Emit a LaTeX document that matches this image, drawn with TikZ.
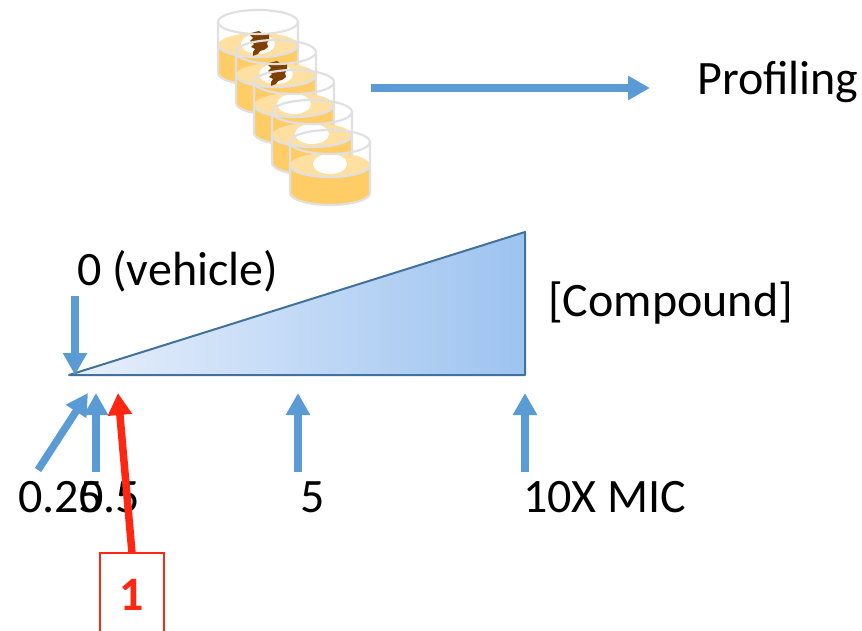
\documentclass[tikz,border=0pt]{standalone}
\usepackage{fontspec}
\setmainfont{Carlito}
\usetikzlibrary{arrows.meta}

\definecolor{arrowblue}{RGB}{91,155,213}
\definecolor{edgeblue}{RGB}{65,113,156}
\definecolor{wedgelight}{RGB}{232,240,252}
\definecolor{wedgedark}{RGB}{157,195,240}
\definecolor{markred}{RGB}{255,38,18}
\definecolor{liquid}{RGB}{255,204,102}
\definecolor{liquidtop}{RGB}{255,224,160}
\definecolor{glass}{RGB}{224,224,224}
\definecolor{colony}{RGB}{127,63,0}

% one petri dish: centre of rim (#1,#2), optional colony drawing #3
\newcommand\petridish[3]{%
  \begin{scope}[shift={(#1,#2)}]
    \fill[liquid] (-40,23) -- (-40,51)
      arc[start angle=180,end angle=0,x radius=40,y radius=12] -- (40,23) -- cycle;
    \fill[liquidtop] (0,23) ellipse[x radius=40,y radius=12];
    \fill[white] (0,22) ellipse[x radius=17,y radius=10];
    #3
    \draw[glassline] (0,0) ellipse[x radius=40,y radius=12];
    \draw[glassline] (-40,0) -- (-40,51)
      arc[start angle=180,end angle=0,x radius=40,y radius=12] -- (40,0);
    \draw[glassline] (-40,23) arc[start angle=180,end angle=0,x radius=40,y radius=12];
  \end{scope}}

\newcommand\colonyblob{%
  \fill[colony] (-7,11) -- (1,9) -- (5,12) -- (11,11) -- (11,18) -- (9,21) -- (10,25)
    -- (6,28) -- (2,29) -- (0,32) -- (-5,34) -- (-5,30) -- (-3,27) -- (-7,25)
    -- (-4,22) -- (-8,19) -- (-5,16) -- (-8,13) -- cycle;}

\tikzset{
  glassline/.style={glass,line width=2.2},
  bluearrow/.style={arrowblue,line width=7.5,-{Triangle[width=23pt,length=22pt]}},
  redarrow/.style={markred,line width=7.5,-{Triangle[width=23pt,length=22pt]}},
  label/.style={anchor=base west,inner sep=0,font=\fontsize{48}{52}\selectfont},
}

\begin{document}
\begin{tikzpicture}[x=1pt,y=-1pt]
  \useasboundingbox (0,0) rectangle (862,631);
  \clip (0,0) rectangle (862,631);

  % stack of dishes, back to front
  \petridish{258}{22}{\colonyblob}
  \petridish{276}{52}{\colonyblob}
  \petridish{294}{82}{}
  \petridish{312}{112}{}
  \petridish{330}{142}{}

  % profiling
  \coordinate (pstart) at (371,88);
  \coordinate (pend) at (650,88);
  \node[label] (profiling) at (697,95) {Profiling};
  \draw[bluearrow] (pstart) -- (pend);

  % concentration wedge
  \coordinate (apex) at (69,375);
  \coordinate (base) at (525,375);
  \coordinate (top) at (525,232);
  \shade[left color=wedgelight,right color=wedgedark] (apex) -- (base) -- (top) -- cycle;
  \draw[edgeblue,line width=2,line join=round] (apex) -- (base) -- (top) -- cycle;

  \node[label] (vehicle) at (77,285) {0 (vehicle)};
  \node[label] (compound) at (548,316) {[Compound]};
  \coordinate (vstart) at (75,296);
  \coordinate (vend) at (75,375);
  \draw[bluearrow] (vstart) -- (vend);

  % dose labels and markers
  \node[label] (q25) at (18,512) {0.25};
  \node[label] (q50) at (79,512) {0.5};
  \node[label] (q5) at (300,512) {5};
  \node[label] (qmic) at (523,512) {10X MIC};

  \coordinate (a25s) at (38,470);  \coordinate (a25e) at (88,393);
  \coordinate (a50s) at (96,472);  \coordinate (a50e) at (96,393);
  \coordinate (a5s) at (298,472);  \coordinate (a5e) at (298,393);
  \coordinate (amics) at (525,472); \coordinate (amice) at (525,393);
  \draw[bluearrow] (a25s) -- (a25e);
  \draw[bluearrow] (a50s) -- (a50e);
  \draw[bluearrow] (a5s) -- (a5e);
  \draw[bluearrow] (amics) -- (amice);

  % highlighted marker
  \draw[markred,line width=1.6] (100,553) rectangle (164,640);
  \node[anchor=base,inner sep=0,text=markred,font=\fontsize{48}{52}\selectfont\bfseries] (one) at (132,610) {1};
  \coordinate (rstart) at (132,553);
  \coordinate (rend) at (118,393);
  \draw[redarrow] (rstart) -- (rend);
\end{tikzpicture}
\end{document}
